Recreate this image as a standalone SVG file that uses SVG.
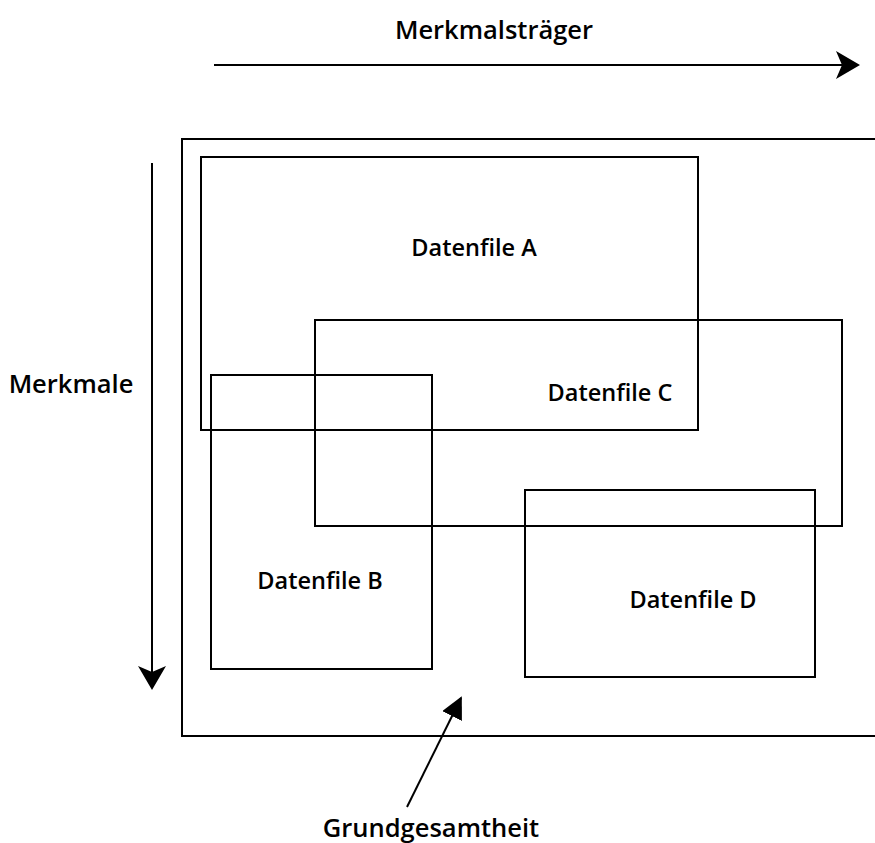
<svg xmlns="http://www.w3.org/2000/svg" width="875" height="843" viewBox="0 0 875 843">
<style>
.box{fill:none;stroke:#000;stroke-width:2}
.lbl{font-family:"Open Sans","DejaVu Sans",sans-serif;font-weight:600;font-size:23.5px;fill:#000}
.big{font-size:25.5px}
.con{stroke:#000;stroke-width:2;fill:none}
</style>
<defs>
<marker id="ah" viewBox="0 0 24 28" refX="22" refY="14" markerWidth="24" markerHeight="28" markerUnits="userSpaceOnUse" orient="auto">
<path d="M0,0 L24,14 L0,28 L6,14 Z" fill="#000"/>
</marker>
<marker id="ah2" viewBox="0 0 24 24" refX="22" refY="12" markerWidth="22" markerHeight="22" markerUnits="userSpaceOnUse" orient="auto">
<path d="M0,0 L24,12 L0,24 Z" fill="#000"/>
</marker>
</defs>
<rect width="875" height="843" fill="#fff"/>
<g id="grundgesamtheit"><rect class="box" x="182" y="139" width="710" height="597"/></g>
<g id="datenfile-a"><rect class="box" x="201" y="157" width="497" height="273"/><text class="lbl" x="474" y="256" text-anchor="middle">Datenfile A</text></g>
<g id="datenfile-c"><rect class="box" x="315" y="320" width="527" height="206"/><text class="lbl" x="610" y="401" text-anchor="middle">Datenfile C</text></g>
<g id="datenfile-b"><rect class="box" x="211" y="375" width="221" height="294"/><text class="lbl" x="320" y="589" text-anchor="middle">Datenfile B</text></g>
<g id="datenfile-d"><rect class="box" x="525" y="490" width="290" height="187"/><text class="lbl" x="693" y="608" text-anchor="middle">Datenfile D</text></g>
<g id="labels">
<text class="lbl big" x="494" y="39" text-anchor="middle">Merkmalsträger</text>
<text class="lbl big" x="71" y="393" text-anchor="middle">Merkmale</text>
<text class="lbl big" x="431" y="837" text-anchor="middle">Grundgesamtheit</text>
</g>
<g id="connectors">
<line class="con" x1="214" y1="65" x2="858" y2="65" marker-end="url(#ah)"/>
<line class="con" x1="152" y1="163" x2="152" y2="688" marker-end="url(#ah)"/>
<line class="con" x1="407" y1="807" x2="461" y2="698" marker-end="url(#ah2)"/>
</g>
</svg>
